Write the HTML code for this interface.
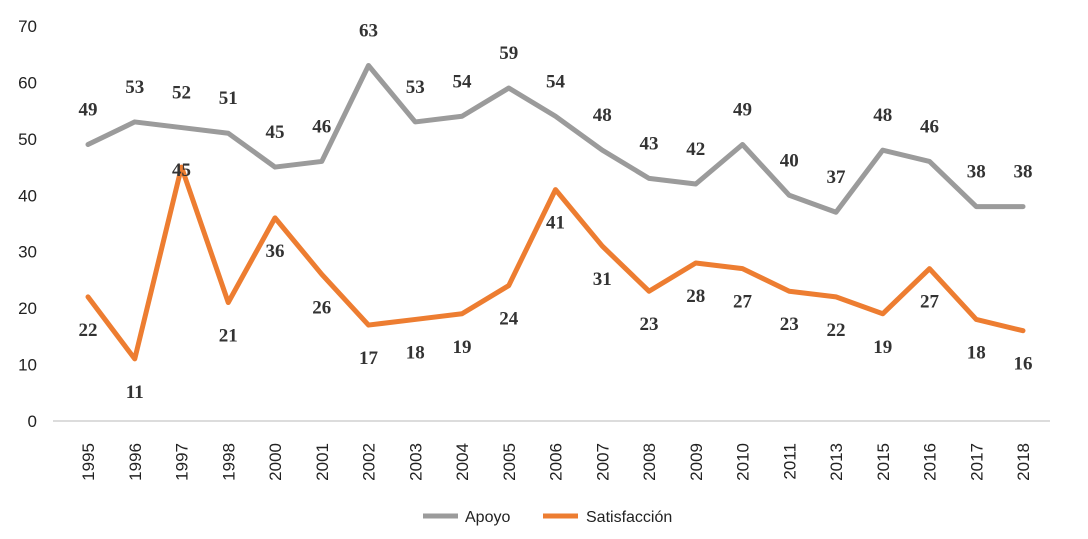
<!DOCTYPE html>
<html><head><meta charset="utf-8"><style>
body{margin:0;background:#fff;}
svg{display:block;}
</style></head><body>
<svg id="chart" width="1088" height="539" xmlns="http://www.w3.org/2000/svg"></svg>
<script>
const years=["1995","1996","1997","1998","2000","2001","2002","2003","2004","2005","2006","2007","2008","2009","2010","2011","2013","2015","2016","2017","2018"];
const apoyo=[49,53,52,51,45,46,63,53,54,59,54,48,43,42,49,40,37,48,46,38,38];
const satisf=[22,11,45,21,36,26,17,18,19,24,41,31,23,28,27,23,22,19,27,18,16];
const yTicks=[0,10,20,30,40,50,60,70];
const NS="http://www.w3.org/2000/svg";
const svg=document.getElementById('chart');
const x=i=>88+i*(1023-88)/(years.length-1);
const y=v=>421-v*(421-26)/70;
function mk(t,a){const e=document.createElementNS(NS,t);for(const k in a)e.setAttribute(k,a[k]);svg.appendChild(e);return e;}
const ax=mk('line',{x1:53,x2:1050,y1:421,y2:421,stroke:'#d0d0d0','stroke-width':1.5});


yTicks.forEach(v=>{const t=mk('text',{x:37,y:y(v)+6,'text-anchor':'end','font-family':'Liberation Sans, sans-serif','font-size':17,fill:'#222'});t.textContent=v;

});
years.forEach((yr,i)=>{const t=mk('text',{transform:`translate(${x(i)+6},443) rotate(-90)`,'text-anchor':'end','font-family':'Liberation Sans, sans-serif','font-size':17,fill:'#222'});t.textContent=yr;

});
function series(vals,color,name,off){
 const p=mk('polyline',{points:vals.map((v,i)=>x(i)+','+y(v)).join(' '),fill:'none',stroke:color,'stroke-width':5,'stroke-linejoin':'round','stroke-linecap':'round'});
 
 
 vals.forEach((v,i)=>{const o=off(i);const t=mk('text',{x:x(i),y:y(v)+o,'text-anchor':'middle','font-family':'Liberation Serif, serif','font-size':19,'font-weight':'bold',fill:'#333'});t.textContent=v;
 
 });
}
series(apoyo,'#9b9b9b','apoyo',i=>-29);
series(satisf,'#ed7d31','satisfaccion',i=>i===2?9:39);
// legend
const l1=mk('line',{x1:423,x2:458,y1:516,y2:516,stroke:'#9b9b9b','stroke-width':5});


const t1=mk('text',{x:465,y:522,'font-family':'Liberation Sans, sans-serif','font-size':16,fill:'#222'});t1.textContent='Apoyo';


const l2=mk('line',{x1:543,x2:578,y1:516,y2:516,stroke:'#ed7d31','stroke-width':5});


const t2=mk('text',{x:586,y:522,'font-family':'Liberation Sans, sans-serif','font-size':16,fill:'#222'});t2.textContent='Satisfacción';


</script>
</body></html>
